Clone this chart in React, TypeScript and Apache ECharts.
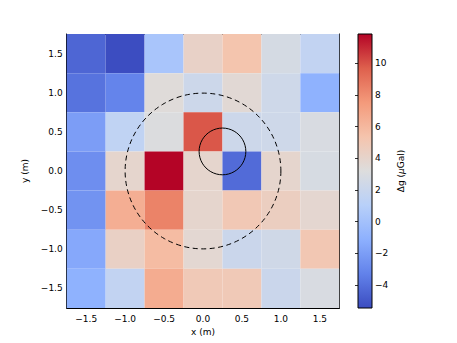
import React, { useEffect, useRef } from "react";
import * as echarts from "echarts";

const xCenters = [-1.5, -1.0, -0.5, 0.0, 0.5, 1.0, 1.5];
const yCenters = [1.5, 1.0, 0.5, 0.0, -0.5, -1.0, -1.5];
const cellSize = 0.5;
// rows from top (y=1.5) to bottom (y=-1.5), Δg in μGal
const row_p15 = [-4.4, -5.4, 0.3, 4.2, 5.3, 2.7, 1.6];
const row_p10 = [-3.9, -3.2, 3.4, 2.2, 3.6, 2.3, -1.0];
const row_p05 = [-2.0, 1.5, 3.1, 9.9, 2.2, 2.3, 2.9];
const row_00 = [-2.7, 3.9, 11.85, 3.9, -4.2, 3.9, 2.8];
const row_m05 = [-2.5, 6.5, 8.4, 3.9, 5.0, 4.5, 3.8];
const row_m10 = [-1.5, 4.3, 5.8, 3.7, 2.1, 2.4, 5.1];
const row_m15 = [-1.0, 1.6, 6.6, 4.9, 4.9, 2.1, 2.9];
const rows = [row_p15, row_p10, row_p05, row_00, row_m05, row_m10, row_m15];

const vMin = -5.45;
const vMax = 11.85;
const coolwarm = ["#3b4cc0", "#6282ea", "#8db0fe", "#b8d0f9", "#dddddd", "#f5c4ad", "#f49a7b", "#de604d", "#b40426"];

// circles
const circleCx = [0.0, 0.25];
const circleCy = [0.0, 0.25];
const circleR = [1.0, 0.3];
const circleDashed = [1, 0];

const FONT = "DejaVu Sans";
const fmt = (v: number) => v.toFixed(1).replace("-", "\u2212");
const fmtInt = (v: number) => String(Math.round(v)).replace("-", "\u2212");

export default function App() {
  const ref = useRef<HTMLDivElement>(null);
  useEffect(() => {
    if (!ref.current) return;
    const chart = echarts.init(ref.current, null, { renderer: "svg" });
    const heatData: number[][] = [];
    rows.forEach((r, i) => r.forEach((v, j) => heatData.push([xCenters[j], yCenters[i], v])));
    const circleData = circleCx.map((c, i) => [c, circleCy[i], circleR[i], circleDashed[i]]);

    const axisCommon = {
      type: "value" as const,
      min: -1.75,
      max: 1.75,
      splitNumber: 7,
      minInterval: 0.5,
      maxInterval: 0.5,
      splitLine: { show: false },
      axisLine: { show: true, onZero: false, lineStyle: { color: "#000", width: 1 } },
      axisTick: { show: true, inside: true, length: 4, lineStyle: { color: "#000", width: 0.8 } },
    };
    const labelCommon = {
      color: "#000",
      fontFamily: FONT,
      fontSize: 9,
      showMinLabel: false,
      showMaxLabel: false,
      formatter: (v: number) => fmt(v),
    };

    const stops = coolwarm
      .map((c, i) => ({ offset: 1 - i / (coolwarm.length - 1), color: c }))
      .reverse();

    chart.setOption({
      animation: false,
      backgroundColor: "#fff",
      grid: [
        { left: 66.7, top: 34, width: 272.6, height: 274 },
        { left: 358, top: 34, width: 14, height: 274 },
      ],
      xAxis: [
        {
          ...axisCommon,
          gridIndex: 0,
          position: "bottom",
          axisLabel: { ...labelCommon, margin: 6 },
          name: "x (m)",
          nameLocation: "middle",
          nameGap: 18,
          nameTextStyle: { color: "#000", fontFamily: FONT, fontSize: 9 },
        },
        { ...axisCommon, gridIndex: 0, position: "top", axisLabel: { show: false } },
        { type: "value", gridIndex: 1, min: 0, max: 1, show: false },
      ],
      yAxis: [
        {
          ...axisCommon,
          gridIndex: 0,
          position: "left",
          axisLabel: { ...labelCommon, margin: 4 },
          name: "y (m)",
          nameLocation: "middle",
          nameGap: 28,
          nameTextStyle: { color: "#000", fontFamily: FONT, fontSize: 9 },
        },
        { ...axisCommon, gridIndex: 0, position: "right", axisLabel: { show: false } },
        {
          type: "value",
          gridIndex: 1,
          position: "right",
          min: vMin,
          max: vMax,
          splitNumber: 9,
          minInterval: 2,
          maxInterval: 2,
          splitLine: { show: false },
          axisLine: { show: false },
          axisTick: { show: true, inside: true, length: 3, lineStyle: { color: "#000", width: 0.8 } },
          axisLabel: {
            color: "#000",
            fontFamily: FONT,
            fontSize: 9,
            margin: 3,
            showMinLabel: false,
            showMaxLabel: false,
            formatter: (v: number) => fmtInt(v),
          },
          name: "{a|\u0394g (}{i|\u03bc}{a|Gal)}",
          nameLocation: "middle",
          nameRotate: 90,
          nameGap: 24,
          nameTextStyle: {
            rich: {
              a: { color: "#000", fontFamily: FONT, fontSize: 9 },
              i: { color: "#000", fontFamily: FONT, fontSize: 9, fontStyle: "italic" },
            },
          },
        },
      ],
      visualMap: {
        show: false,
        type: "continuous",
        seriesIndex: 0,
        dimension: 2,
        min: vMin,
        max: vMax,
        inRange: { color: coolwarm },
      },
      series: [
        {
          type: "custom",
          xAxisIndex: 0,
          yAxisIndex: 0,
          encode: { x: 0, y: 1 },
          data: heatData,
          z: 1,
          renderItem: (_p: any, api: any) => {
            const x = api.value(0);
            const y = api.value(1);
            const h = cellSize / 2;
            const p0 = api.coord([x - h, y + h]);
            const p1 = api.coord([x + h, y - h]);
            return {
              type: "rect",
              shape: { x: p0[0], y: p0[1], width: p1[0] - p0[0], height: p1[1] - p0[1] },
              style: { fill: api.visual("color"), stroke: null },
            };
          },
        },
        {
          type: "custom",
          xAxisIndex: 0,
          yAxisIndex: 0,
          encode: { x: 0, y: 1 },
          data: circleData,
          z: 3,
          renderItem: (_p: any, api: any) => {
            const c = api.coord([api.value(0), api.value(1)]);
            const r = api.size([api.value(2), api.value(2)])[0];
            const dashed = api.value(3) === 1;
            return {
              type: "circle",
              shape: { cx: c[0], cy: c[1], r },
              style: { fill: "none", stroke: "#000", lineWidth: 1, lineDash: dashed ? [5, 3.5] : null },
            };
          },
        },
        {
          type: "custom",
          xAxisIndex: 2,
          yAxisIndex: 2,
          data: [[0, vMin, vMax]],
          z: 1,
          renderItem: (_p: any, api: any) => {
            const p0 = api.coord([0, api.value(2)]);
            const p1 = api.coord([1, api.value(1)]);
            return {
              type: "rect",
              shape: { x: p0[0], y: p0[1], width: p1[0] - p0[0], height: p1[1] - p0[1] },
              style: {
                fill: new echarts.graphic.LinearGradient(0, 0, 0, 1, stops),
                stroke: "#000",
                lineWidth: 1,
              },
            };
          },
        },
      ],
    });
    return () => chart.dispose();
  }, []);
  return <div ref={ref} style={{ position: "absolute", left: 0, top: 0, width: 457, height: 343 }} />;
}
